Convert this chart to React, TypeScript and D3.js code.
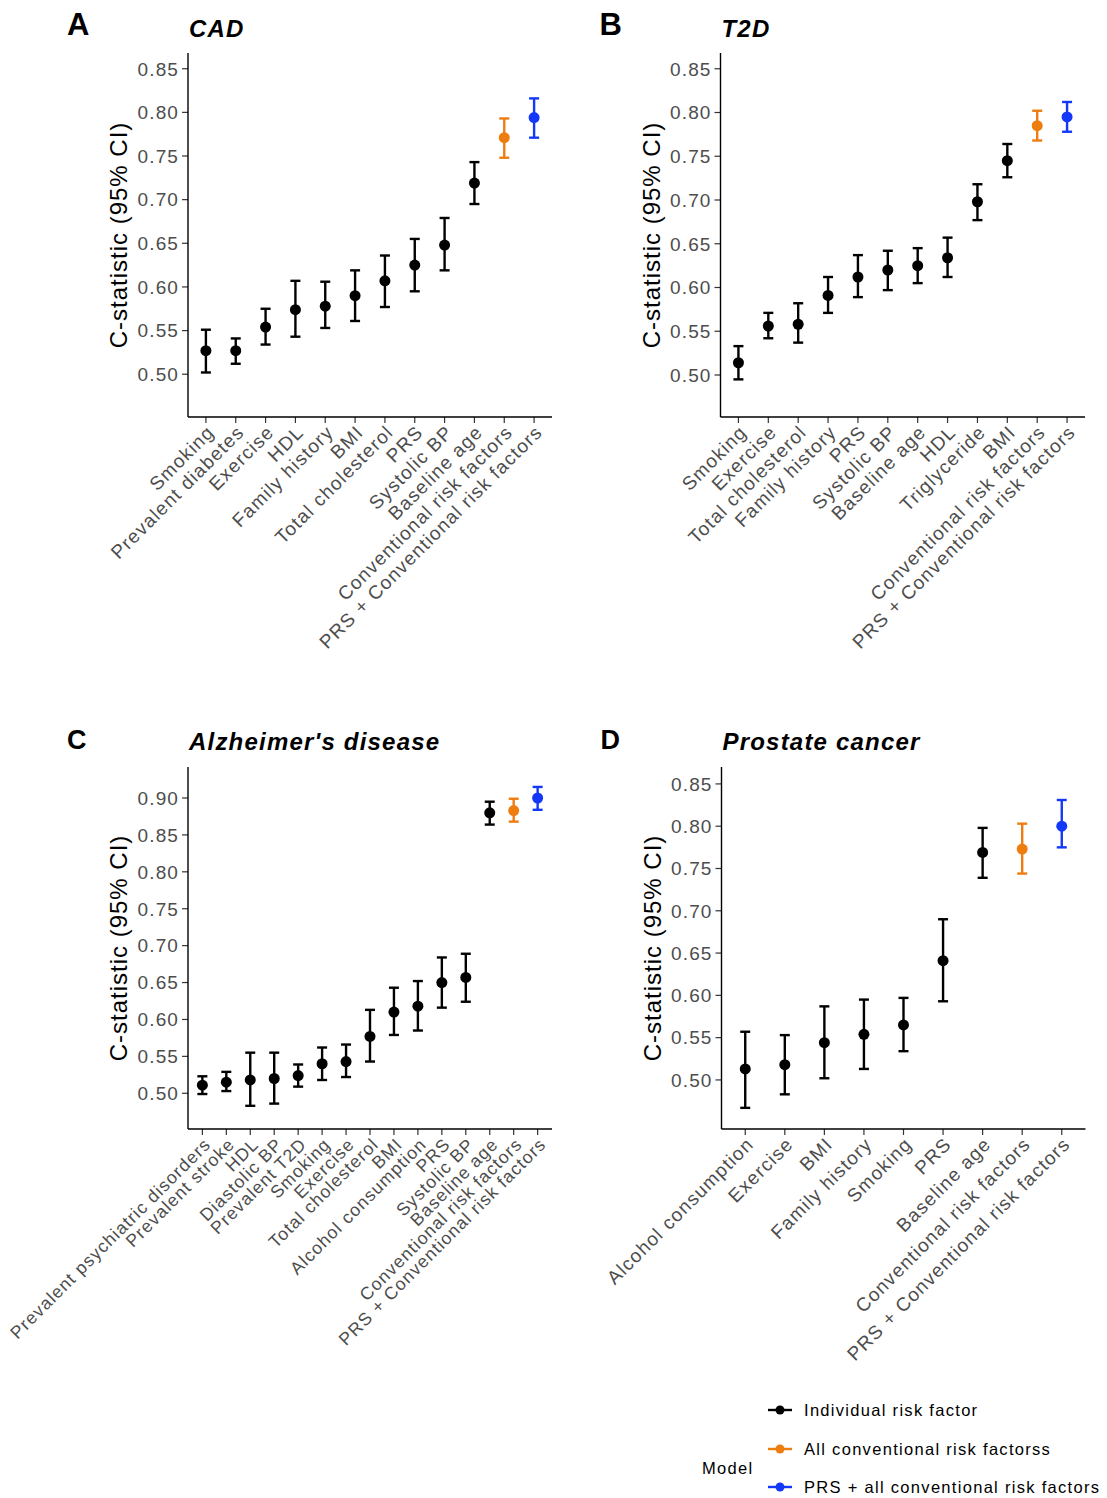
import React from "react";
import * as d3 from "d3";

// ---------- Data ----------
const catsA = ["Smoking", "Prevalent diabetes", "Exercise", "HDL", "Family history", "BMI", "Total cholesterol", "PRS", "Systolic BP", "Baseline age", "Conventional risk factors", "PRS + Conventional risk factors"];
const estA = [0.527, 0.527, 0.554, 0.574, 0.578, 0.590, 0.607, 0.625, 0.648, 0.719, 0.771, 0.794];
const loA = [0.502, 0.512, 0.534, 0.543, 0.553, 0.561, 0.577, 0.595, 0.619, 0.695, 0.748, 0.771];
const hiA = [0.551, 0.541, 0.575, 0.607, 0.606, 0.619, 0.636, 0.655, 0.679, 0.743, 0.793, 0.816];
const modelA = [0, 0, 0, 0, 0, 0, 0, 0, 0, 0, 1, 2];

const catsB = ["Smoking", "Exercise", "Total cholesterol", "Family history", "PRS", "Systolic BP", "Baseline age", "HDL", "Triglyceride", "BMI", "Conventional risk factors", "PRS + Conventional risk factors"];
const estB = [0.514, 0.556, 0.558, 0.591, 0.612, 0.620, 0.625, 0.634, 0.698, 0.745, 0.785, 0.795];
const loB = [0.495, 0.542, 0.537, 0.571, 0.589, 0.597, 0.605, 0.612, 0.677, 0.726, 0.768, 0.778];
const hiB = [0.533, 0.571, 0.582, 0.612, 0.637, 0.642, 0.645, 0.657, 0.718, 0.764, 0.802, 0.812];
const modelB = [0, 0, 0, 0, 0, 0, 0, 0, 0, 0, 1, 2];

const catsC = ["Prevalent psychiatric disorders", "Prevalent stroke", "HDL", "Diastolic BP", "Prevalent T2D", "Smoking", "Exercise", "Total cholesterol", "BMI", "Alcohol consumption", "PRS", "Systolic BP", "Baseline age", "Conventional risk factors", "PRS + Conventional risk factors"];
const estC = [0.511, 0.515, 0.518, 0.520, 0.524, 0.540, 0.543, 0.577, 0.610, 0.618, 0.650, 0.657, 0.880, 0.883, 0.900];
const loC = [0.499, 0.503, 0.483, 0.486, 0.509, 0.518, 0.522, 0.543, 0.579, 0.585, 0.616, 0.624, 0.864, 0.868, 0.884];
const hiC = [0.523, 0.529, 0.555, 0.555, 0.539, 0.562, 0.566, 0.613, 0.643, 0.652, 0.684, 0.689, 0.895, 0.899, 0.915];
const modelC = [0, 0, 0, 0, 0, 0, 0, 0, 0, 0, 0, 0, 0, 1, 2];

const catsD = ["Alcohol consumption", "Exercise", "BMI", "Family history", "Smoking", "PRS", "Baseline age", "Conventional risk factors", "PRS + Conventional risk factors"];
const estD = [0.513, 0.518, 0.544, 0.554, 0.565, 0.641, 0.769, 0.773, 0.800];
const loD = [0.467, 0.483, 0.502, 0.513, 0.534, 0.593, 0.739, 0.744, 0.775];
const hiD = [0.557, 0.553, 0.587, 0.595, 0.597, 0.690, 0.798, 0.803, 0.831];
const modelD = [0, 0, 0, 0, 0, 0, 0, 1, 2];

const ticksABD = [0.5, 0.55, 0.6, 0.65, 0.7, 0.75, 0.8, 0.85];
const ticksC = [0.5, 0.55, 0.6, 0.65, 0.7, 0.75, 0.8, 0.85, 0.9];

const legendLabels = ["Individual risk factor", "All conventional risk factorss", "PRS + all conventional risk factors"];
const modelColors = ["#000000", "#EE7D10", "#1438F8"];

const FONT = "'Liberation Sans', Arial, Helvetica, sans-serif";

type PanelSpec = {
  letter: string;
  title: string;
  cats: string[];
  est: number[];
  lo: number[];
  hi: number[];
  model: number[];
  ticks: number[];
  domain: [number, number];
  left: number;
  right: number;
  top: number;
  bottom: number;
  letterSize: number;
  letterY: number;
  titleY: number;
  xFont: number;
  xLs: number;
};

const panels: PanelSpec[] = [
  { letter: "A", title: "CAD", cats: catsA, est: estA, lo: loA, hi: hiA, model: modelA, ticks: ticksABD, domain: [0.451, 0.868], left: 188, right: 552, top: 53, bottom: 417, letterSize: 31, letterY: 35, titleY: 37, xFont: 19, xLs: 1.2 },
  { letter: "B", title: "T2D", cats: catsB, est: estB, lo: loB, hi: hiB, model: modelB, ticks: ticksABD, domain: [0.452, 0.868], left: 720.5, right: 1085, top: 53, bottom: 417, letterSize: 31, letterY: 35, titleY: 37, xFont: 19, xLs: 1.2 },
  { letter: "C", title: "Alzheimer's disease", cats: catsC, est: estC, lo: loC, hi: hiC, model: modelC, ticks: ticksC, domain: [0.4516, 0.942], left: 188, right: 552, top: 767, bottom: 1129, letterSize: 27, letterY: 749, titleY: 750, xFont: 17.7, xLs: 1.1 },
  { letter: "D", title: "Prostate cancer", cats: catsD, est: estD, lo: loD, hi: hiD, model: modelD, ticks: ticksABD, domain: [0.442, 0.870], left: 721.5, right: 1085.5, top: 767, bottom: 1129, letterSize: 27, letterY: 749, titleY: 750, xFont: 19, xLs: 1.2 },
];

function Panel({ p }: { p: PanelSpec }) {
  const x = d3.scalePoint<string>().domain(p.cats).range([p.left, p.right]).padding(0.6);
  const y = d3.scaleLinear().domain(p.domain).range([p.bottom, p.top]);
  const cy = (p.top + p.bottom) / 2;
  return (
    <g>
      {/* panel letter and title */}
      <text x={p.left - 121} y={p.letterY} fontFamily={FONT} fontWeight="bold" fontSize={p.letterSize} fill="#000">{p.letter}</text>
      <text x={p.left + 1} y={p.titleY} fontFamily={FONT} fontWeight="bold" fontStyle="italic" fontSize={24} letterSpacing={1.2} fill="#000">{p.title}</text>
      {/* y-axis title */}
      <text transform={`translate(${p.left - 61},${cy}) rotate(-90)`} textAnchor="middle" fontFamily={FONT} fontSize={24} letterSpacing={1} fill="#000">C-statistic (95% CI)</text>
      {/* y ticks */}
      {p.ticks.map((t) => (
        <g key={t}>
          <line x1={p.left - 6} x2={p.left} y1={y(t)} y2={y(t)} stroke="#333" strokeWidth={1.2} />
          <text x={p.left - 9} y={y(t)} dy="0.36em" textAnchor="end" fontFamily={FONT} fontSize={19} letterSpacing={1.1} fill="#4D4D4D">{d3.format(".2f")(t)}</text>
        </g>
      ))}
      {/* x ticks */}
      {p.cats.map((c) => (
        <g key={c}>
          <line x1={x(c)} x2={x(c)} y1={p.bottom} y2={p.bottom + 6} stroke="#333" strokeWidth={1.2} />
          <text transform={`translate(${(x(c) as number) + 9.5},${p.bottom + 16.5}) rotate(-45)`} textAnchor="end" fontFamily={FONT} fontSize={p.xFont} letterSpacing={p.xLs} fill="#4D4D4D">{c}</text>
        </g>
      ))}
      {/* axes */}
      <line x1={p.left} x2={p.left} y1={p.top} y2={p.bottom} stroke="#000" strokeWidth={1.4} />
      <line x1={p.left} x2={p.right} y1={p.bottom} y2={p.bottom} stroke="#000" strokeWidth={1.4} />
      {/* error bars and points */}
      {p.cats.map((c, i) => {
        const cx = x(c) as number;
        const col = modelColors[p.model[i]];
        return (
          <g key={"m" + c}>
            <line x1={cx} x2={cx} y1={y(p.lo[i])} y2={y(p.hi[i])} stroke={col} strokeWidth={2.4} />
            <line x1={cx - 5} x2={cx + 5} y1={y(p.lo[i])} y2={y(p.lo[i])} stroke={col} strokeWidth={2.4} />
            <line x1={cx - 5} x2={cx + 5} y1={y(p.hi[i])} y2={y(p.hi[i])} stroke={col} strokeWidth={2.4} />
            <circle cx={cx} cy={y(p.est[i])} r={5.5} fill={col} />
          </g>
        );
      })}
    </g>
  );
}

function Legend() {
  const ys = [1410, 1449, 1487];
  return (
    <g>
      <text x={702} y={1474} fontFamily={FONT} fontSize={16.5} letterSpacing={1.3} fill="#000">Model</text>
      {legendLabels.map((l, i) => (
        <g key={l}>
          <line x1={768} x2={792} y1={ys[i]} y2={ys[i]} stroke={modelColors[i]} strokeWidth={2.4} />
          <circle cx={780} cy={ys[i]} r={4.5} fill={modelColors[i]} />
          <text x={804} y={ys[i]} dy="0.36em" fontFamily={FONT} fontSize={16.5} letterSpacing={1.3} fill="#000">{l}</text>
        </g>
      ))}
    </g>
  );
}

export default function App() {
  return (
    <svg width={1107} height={1498} style={{ position: "absolute", left: 0, top: 0, background: "#fff" }}>
      <rect x={0} y={0} width={1107} height={1498} fill="#fff" />
      {panels.map((p) => (
        <Panel key={p.letter} p={p} />
      ))}
      <Legend />
    </svg>
  );
}
